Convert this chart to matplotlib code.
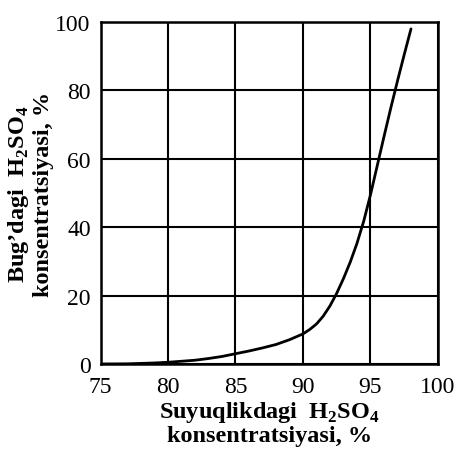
import numpy as np
import matplotlib
matplotlib.use('Agg')
from matplotlib import pyplot as plt

# liquid H2SO4 concentration vs. vapour H2SO4 concentration, %
liquid = [75, 77, 79, 80, 81, 82, 83, 84, 85, 86, 87, 88, 89, 90, 90.5, 91, 91.5, 92,
          92.5, 93, 93.5, 94, 94.5, 95, 95.5, 96, 96.5, 97, 97.5, 98]
vapour = [0, 0.05, 0.3, 0.5, 0.8, 1.1, 1.6, 2.2, 3.0, 3.8, 4.7, 5.7, 7.1, 8.8, 10.1, 11.7, 14.0, 17.0,
          20.7, 25.0, 29.8, 35.3, 41.8, 49.5, 58.0, 66.5, 74.8, 82.8, 90.5, 98]

x_ticks = [75, 80, 85, 90, 95, 100]
y_ticks = [0, 20, 40, 60, 80, 100]

xlabel = 'Suyuqlikdagi  H$_\\mathbf{2}$SO$_\\mathbf{4}$\nkonsentratsiyasi, %'
ylabel = 'Bug\u2019dagi  H$_\\mathbf{2}$SO$_\\mathbf{4}$\nkonsentratsiyasi, %'

plt.rcParams['font.family'] = 'Liberation Serif'
plt.rcParams['mathtext.fontset'] = 'custom'
plt.rcParams['mathtext.rm'] = 'Liberation Serif'
plt.rcParams['mathtext.bf'] = 'Liberation Serif:bold'

fig = plt.figure(figsize=(4.56, 4.52), dpi=100)
ax = fig.add_axes([0.2204, 0.1925, 0.7401, 0.7565])

ax.plot(liquid, vapour, color='black', linewidth=2.0, zorder=3,
        solid_joinstyle='round', solid_capstyle='round')

ax.set_xlim(75, 100)
ax.set_ylim(0, 100)
ax.set_xticks(x_ticks)
ax.set_yticks(y_ticks)
ax.tick_params(length=0, labelsize=17)
ax.tick_params(axis='x', pad=9)
ax.tick_params(axis='y', pad=7)
ax.grid(True, color='black', linewidth=1.5)
for s in ax.spines.values():
    s.set_linewidth(1.8)

ax.set_xlabel(xlabel, fontsize=17.5, fontweight='bold', linespacing=1.1, labelpad=1)
ax.set_ylabel(ylabel, fontsize=17.5, fontweight='bold', linespacing=1.15, labelpad=1)

fig.savefig('out.png', dpi=100)
